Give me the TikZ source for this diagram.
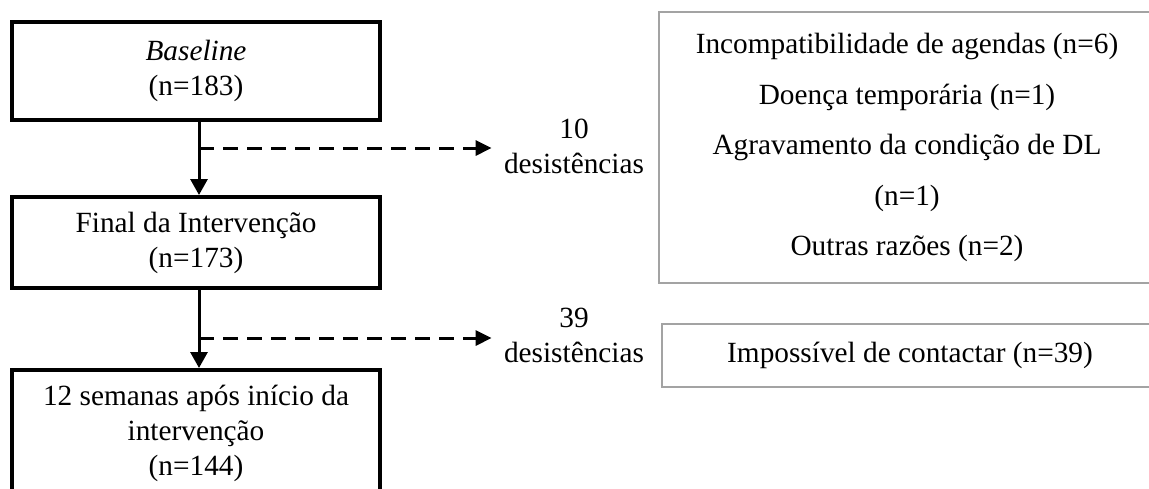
\documentclass[tikz,border=0pt]{standalone}
\usepackage{fontspec}
\setmainfont{Liberation Serif}
\usetikzlibrary{arrows.meta}
\definecolor{boxgray}{HTML}{A3A3A3}
\begin{document}
\begin{tikzpicture}[x=0.5pt,y=-0.5pt,
  txt/.style={font=\fontsize{14.65}{17.5}\selectfont},
  mainbox/.style={txt,draw=black,line width=2pt,minimum width=184pt,align=center,inner sep=0pt},
  greybox/.style={txt,draw=boxgray,line width=1pt,minimum width=248pt,align=center,inner sep=0pt},
  lbl/.style={txt,align=center,inner xsep=6pt,inner ysep=0pt},
  flow/.style={line width=1.5pt,-{Triangle[width=8.5pt,length=8pt]}},
  drop/.style={line width=1.5pt,dash pattern=on 7.5pt off 4.5pt,-{Triangle[width=7.5pt,length=8pt]}}]
\useasboundingbox (0,0) rectangle (1149,488);
\clip (0,0) rectangle (1149,488);
\node[mainbox,minimum height=49pt] (b1) at (196,71) {\textit{Baseline}\\(n=183)};
\node[mainbox,minimum height=45.5pt] (b2) at (196,242.5) {Final da Intervenção\\(n=173)};
\node[mainbox,minimum height=63pt] (b3) at (196,433) {12 semanas após início da\\intervenção\\(n=144)};
\node[lbl] (d1) at (574,146) {10\\desistências};
\node[lbl] (d2) at (574,335) {39\\desistências};
\node[greybox,minimum height=135.5pt,font=\fontsize{14.65}{25.25}\selectfont] (r1) at (907,147.5)
  {Incompatibilidade de agendas (n=6)\\Doença temporária (n=1)\\Agravamento da condição de DL\\(n=1)\\Outras razões (n=2)};
\node[greybox,minimum height=31.5pt] (r2) at (910,355.5) {Impossível de contactar (n=39)};
\draw[flow] ([xshift=1.5pt]b1.south) -- ([xshift=1.5pt]b2.north);
\draw[flow] ([xshift=1.5pt]b2.south) -- ([xshift=1.5pt]b3.north);
\coordinate (j1) at (199,148);
\coordinate (j2) at (199,338);
\draw[drop] (j1) -- (j1 -| d1.west);
\draw[drop] (j2) -- (j2 -| d2.west);
\end{tikzpicture}
\end{document}
